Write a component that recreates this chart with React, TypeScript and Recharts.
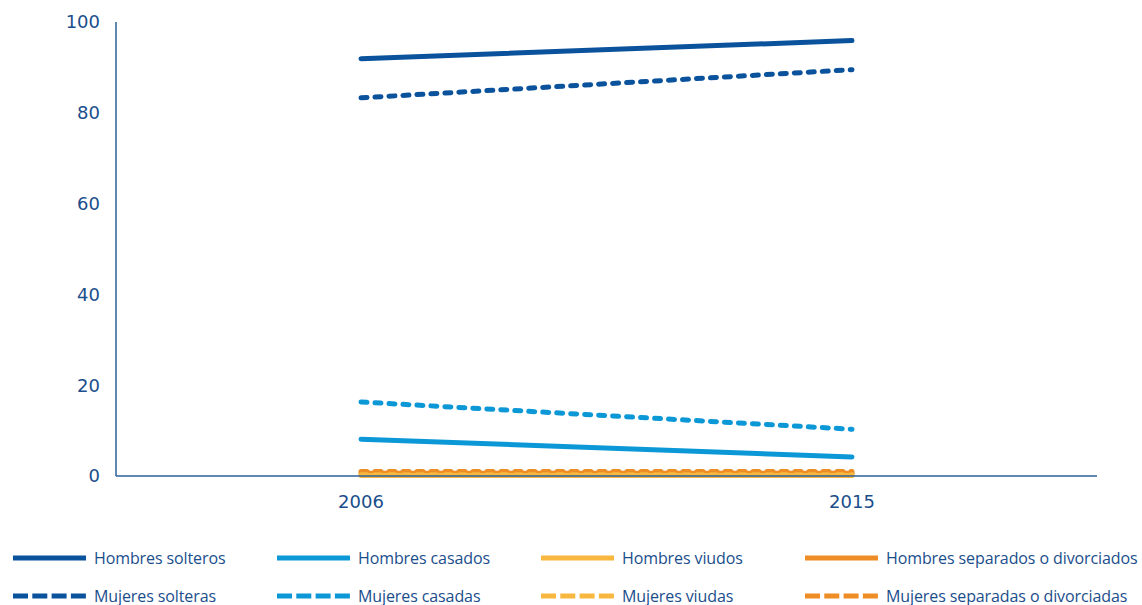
import React from "react";
import { LineChart, Line, XAxis, YAxis } from "recharts";

const years = ["2006", "2015"];
const hombresSolteros = [91.9, 95.9];
const mujeresSolteras = [83.3, 89.5];
const hombresCasados = [8.1, 4.2];
const mujeresCasadas = [16.3, 10.3];
const hombresViudos = [0.1, 0.1];
const mujeresViudas = [0.3, 0.3];
const hombresSeparados = [0.6, 0.6];
const mujeresSeparadas = [1.0, 1.0];
const yTicks = [0, 20, 40, 60, 80, 100];

const DARK = "#0b529c";
const LIGHT = "#0c98d6";
const YELLOW = "#f8b73f";
const ORANGE = "#ee8c25";
const TEXT = "#1a4e8c";

const series = [
  { key: "hs", name: "Hombres solteros", values: hombresSolteros, color: DARK, dashed: false },
  { key: "hc", name: "Hombres casados", values: hombresCasados, color: LIGHT, dashed: false },
  { key: "hv", name: "Hombres viudos", values: hombresViudos, color: YELLOW, dashed: false },
  { key: "hd", name: "Hombres separados o divorciados", values: hombresSeparados, color: ORANGE, dashed: false },
  { key: "ms", name: "Mujeres solteras", values: mujeresSolteras, color: DARK, dashed: true },
  { key: "mc", name: "Mujeres casadas", values: mujeresCasadas, color: LIGHT, dashed: true },
  { key: "mv", name: "Mujeres viudas", values: mujeresViudas, color: YELLOW, dashed: true },
  { key: "md", name: "Mujeres separadas o divorciadas", values: mujeresSeparadas, color: ORANGE, dashed: true },
];

const data = years.map((y, i) => {
  const row: Record<string, string | number> = { year: y };
  series.forEach((s) => {
    row[s.key] = s.values[i];
  });
  return row;
});

const drawOrder = ["hd", "md", "hv", "mv", "hc", "mc", "hs", "ms"];

export default function App() {
  return (
    <div style={{ position: "absolute", left: 0, top: 0, width: 1142, height: 605, background: "#fff" }}>
      <LineChart width={1142} height={605} data={data} margin={{ top: 22, right: 45, bottom: 89, left: 0 }}>
        <XAxis
          dataKey="year"
          padding={{ left: 245, right: 245 }}
          axisLine={{ stroke: "#2d5f9a", strokeWidth: 1.5 }}
          tickLine={false}
          tickSize={0}
          tickMargin={19}
          height={40}
          tick={{ fill: TEXT, fontSize: 18, fontFamily: "DejaVu Sans" }}
        />
        <YAxis
          domain={[0, 100]}
          ticks={yTicks}
          width={116}
          axisLine={{ stroke: "#2d5f9a", strokeWidth: 1.5 }}
          tickLine={false}
          tickSize={0}
          tickMargin={16}
          tick={{ fill: TEXT, fontSize: 18, fontFamily: "DejaVu Sans" }}
        />
        {drawOrder.map((k) => {
          const s = series.find((x) => x.key === k)!;
          return (
            <Line
              key={s.key}
              dataKey={s.key}
              name={s.name}
              stroke={s.color}
              strokeWidth={5}
              strokeLinecap="round"
              strokeDasharray={s.dashed ? "6 8" : undefined}
              dot={false}
              activeDot={false}
              isAnimationActive={false}
            />
          );
        })}
      </LineChart>
      <div style={{ position: "absolute", left: 0, top: 540, width: 1142 }}>
        {series.map((s, i) => {
          const col = i % 4;
          const row = Math.floor(i / 4);
          return (
            <div
              key={s.key}
              style={{
                position: "absolute",
                left: 13 + col * 264,
                top: row * 38,
                height: 36,
                display: "flex",
                alignItems: "center",
                whiteSpace: "nowrap",
              }}
            >
              <svg width={74} height={8} style={{ marginRight: 7 }}>
                <line
                  x1={0}
                  y1={4}
                  x2={73}
                  y2={4}
                  stroke={s.color}
                  strokeWidth={5}
                  strokeDasharray={s.dashed ? "15 4.3" : undefined}
                />
              </svg>
              <span style={{ fontFamily: "Open Sans", fontSize: 16, color: TEXT, letterSpacing: -0.1 }}>{s.name}</span>
            </div>
          );
        })}
      </div>
    </div>
  );
}
